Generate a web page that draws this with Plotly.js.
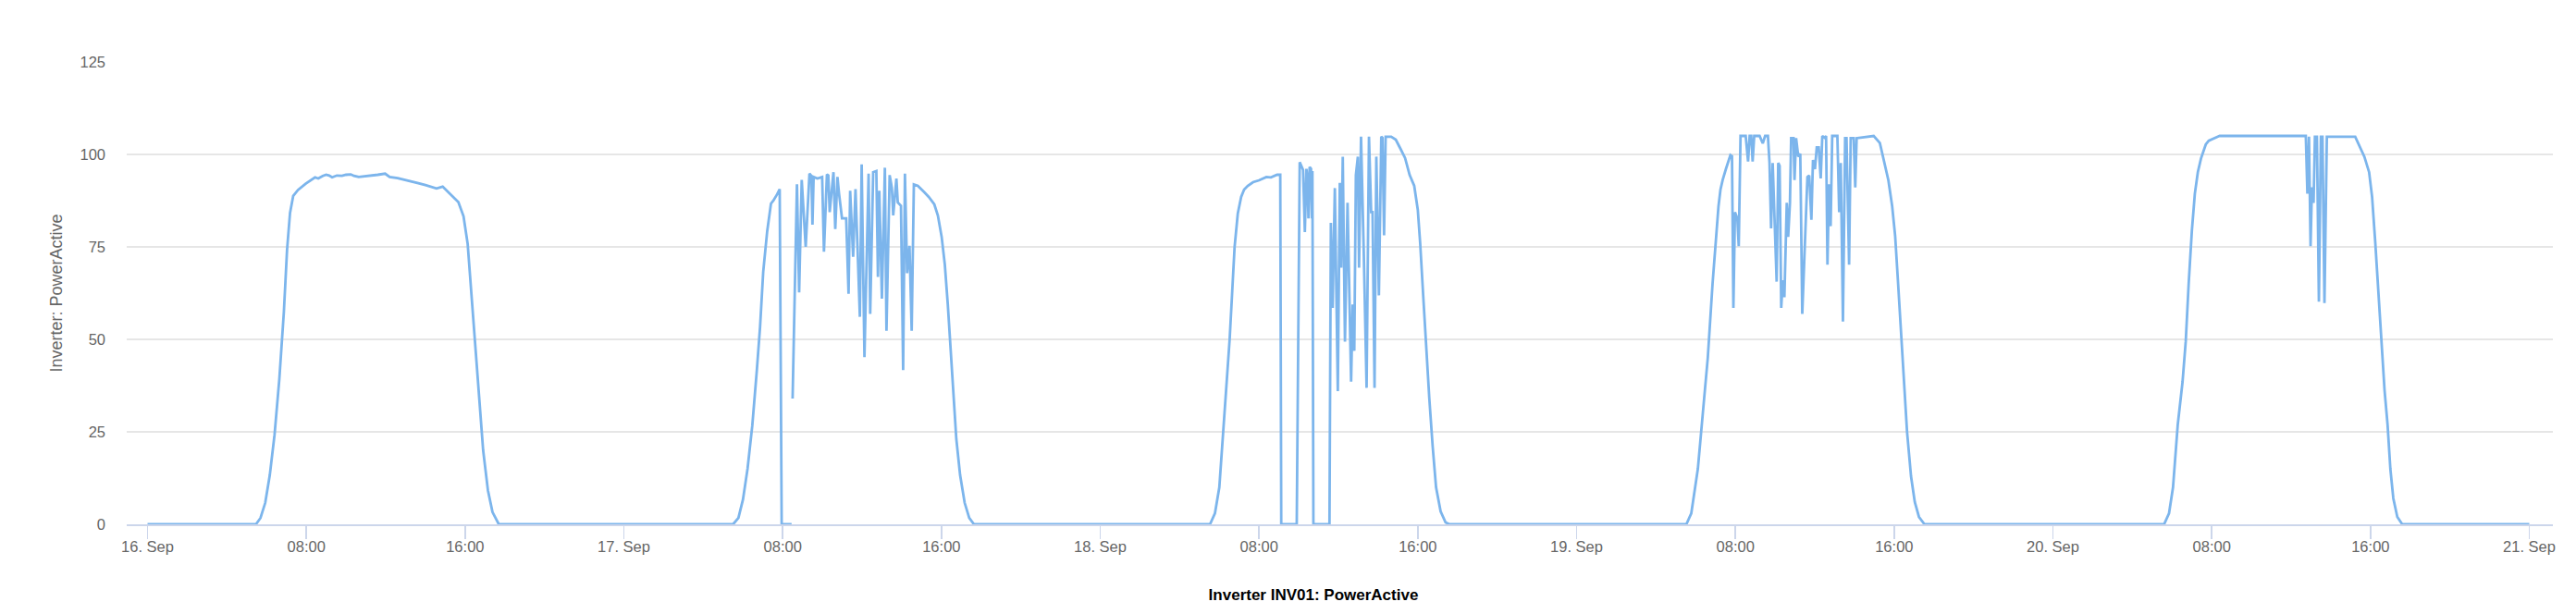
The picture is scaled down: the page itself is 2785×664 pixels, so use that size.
<!DOCTYPE html>
<html>
<head>
<meta charset="utf-8">
<script src="https://cdn.plot.ly/plotly-3.0.1.min.js"></script>
<style>
  html, body { margin: 0; padding: 0; background: #ffffff; }
  #chart { width: 2785px; height: 664px; }
</style>
</head>
<body>
<div id="chart"></div>
<script>
// ---- Data (hours of day, PowerActive values) ----
const days = ['2019-09-16', '2019-09-17', '2019-09-18', '2019-09-19', '2019-09-20'];

const day1Hours = [0, 5.46, 5.69, 5.93, 6.16, 6.40, 6.64, 6.87, 7.03, 7.18, 7.34, 7.58, 7.97, 8.44, 8.6, 8.83, 9.0, 9.15, 9.3, 9.54, 9.8, 10.0, 10.24, 10.4, 10.64, 11.0, 11.34, 11.6, 11.97, 12.2, 12.6, 13.22, 13.6, 14.0, 14.3, 14.56, 14.87, 15.26, 15.66, 15.92, 16.13, 16.28, 16.44, 16.6, 16.75, 16.91, 17.15, 17.38, 17.7];
const day1Power = [0, 0, 1.7, 5.8, 13.3, 24.2, 39.2, 57.5, 74.2, 84.2, 88.8, 90.4, 92.1, 93.8, 93.5, 94.2, 94.5, 94.3, 93.8, 94.3, 94.2, 94.5, 94.6, 94.2, 93.9, 94.1, 94.2, 94.5, 94.8, 93.9, 93.6, 92.9, 92.3, 91.7, 91.2, 90.8, 91.3, 89.3, 87.1, 83.3, 75.8, 65, 53.3, 40.8, 30, 20, 9.2, 3.3, 0];

const day2Hours = [5.5, 5.77, 6.0, 6.23, 6.47, 6.70, 6.86, 7.02, 7.22, 7.41, 7.53, 7.72, 7.85, 7.95, 8.45, 8.47, 8.5, 8.72, 8.83, 8.96, 9.16, 9.35, 9.45, 9.5, 9.56, 9.75, 9.99, 10.08, 10.23, 10.3, 10.37, 10.56, 10.65, 10.76, 10.84, 10.99, 11.2, 11.32, 11.4, 11.55, 11.67, 11.89, 11.98, 12.12, 12.33, 12.41, 12.56, 12.72, 12.8, 12.87, 13.0, 13.15, 13.23, 13.39, 13.5, 13.57, 13.73, 13.8, 13.96, 14.07, 14.16, 14.27, 14.39, 14.5, 14.61, 14.81, 15.13, 15.36, 15.64, 15.82, 16.01, 16.17, 16.32, 16.48, 16.6, 16.75, 16.94, 17.17, 17.4, 17.64];
const day2Power = [0, 1.7, 6.7, 15, 26.7, 41.7, 53.3, 68.3, 79.2, 86.7, 87.5, 89.2, 90.6, 0, 0, null, 34, 91.9, 62.7, 93.1, 75, 94.8, 94.2, 81, 93.9, 93.5, 93.9, 73.7, 94.6, 94.3, 84.4, 95.2, 79.8, 93.9, 89.4, 82.7, 82.7, 62.3, 90.2, 72.3, 90.6, 56.1, 97.3, 45.2, 94.8, 56.9, 95.2, 95.5, 66.9, 90.2, 61, 96.4, 52.3, 94.4, 91, 83.5, 93.5, 87, 86.1, 41.7, 94.8, 67.9, 75.3, 52.3, 91.9, 91.5, 89.8, 88.5, 86.5, 83.5, 77.7, 70.2, 59.4, 46, 34.4, 23, 13.3, 5.8, 1.7, 0];

const day3Hours = [5.53, 5.78, 6.0, 6.19, 6.35, 6.52, 6.65, 6.77, 6.93, 7.1, 7.25, 7.43, 7.7, 8.0, 8.37, 8.6, 8.91, 9.07, 9.12, 9.9, 10.05, 10.16, 10.22, 10.31, 10.39, 10.45, 10.49, 10.55, 10.62, 10.66, 10.69, 10.74, 11.55, 11.62, 11.71, 11.82, 11.97, 12.07, 12.14, 12.22, 12.33, 12.46, 12.55, 12.64, 12.72, 12.8, 12.88, 12.98, 13.04, 13.14, 13.28, 13.42, 13.54, 13.65, 13.72, 13.82, 13.91, 14.04, 14.16, 14.22, 14.3, 14.38, 14.66, 14.89, 15.13, 15.36, 15.59, 15.82, 16.0, 16.12, 16.27, 16.42, 16.58, 16.75, 16.92, 17.15, 17.4, 17.6];
const day3Power = [0, 3, 10, 24, 37, 50, 63, 75, 84, 88.5, 90.5, 91.5, 92.5, 93, 93.9, 93.8, 94.5, 94.5, 0, 0, 97.9, 96.6, 95.8, 79, 96.1, 93, 82.7, 96.6, 96.1, 82.7, 95.5, 0, 0, 81.5, 58.5, 90.9, 36, 92.3, 69.4, 99.4, 49.4, 86.9, 58.5, 38.6, 59.4, 46.9, 94.4, 99.4, 69.4, 104.8, 72.9, 36.9, 104.8, 84.4, 84.4, 36.9, 99.4, 61.9, 104.8, 104.5, 78.1, 104.8, 104.8, 104, 101.5, 99, 94.4, 91.5, 85, 76, 62, 48, 34, 21, 10, 3.5, 0.5, 0];

const day4Hours = [5.53, 5.78, 6.11, 6.36, 6.61, 6.85, 7.02, 7.15, 7.25, 7.36, 7.52, 7.75, 7.83, 7.9, 7.98, 8.1, 8.17, 8.26, 8.52, 8.64, 8.72, 8.8, 8.87, 8.95, 9.22, 9.38, 9.5, 9.64, 9.72, 9.8, 9.88, 9.96, 10.08, 10.16, 10.23, 10.31, 10.39, 10.47, 10.59, 10.66, 10.75, 10.81, 10.93, 10.98, 11.06, 11.17, 11.27, 11.37, 11.63, 11.72, 11.83, 11.91, 12.01, 12.1, 12.2, 12.3, 12.38, 12.5, 12.57, 12.64, 12.72, 12.8, 12.88, 13.14, 13.23, 13.31, 13.42, 13.53, 13.6, 13.73, 13.81, 13.96, 14.04, 14.11, 14.97, 15.28, 15.51, 15.71, 15.9, 16.05, 16.2, 16.35, 16.5, 16.65, 16.85, 17.04, 17.25, 17.53];
const day4Power = [0, 3, 15, 30, 45, 65, 78, 86, 90.5, 93.1, 96, 99.8, 99.5, 58.5, 84.4, 82.7, 75.2, 105, 105, 98.1, 105, 105, 98.1, 105, 105, 103, 105, 105, 97.7, 80, 97.7, 85.2, 65.6, 97.7, 96.9, 58.5, 66, 61.4, 86.9, 77.7, 86.9, 104.4, 104.4, 93.1, 104.4, 99.4, 100.2, 56.9, 93.9, 94.3, 82.3, 98.5, 96, 101.9, 101.9, 93.5, 105, 104.5, 105, 70.2, 91.9, 80.6, 105, 105, 84.4, 97.7, 54.8, 104.4, 104.4, 70.2, 104.4, 104.4, 91.1, 104.4, 105, 103.1, 97.7, 93, 86, 78, 65, 52, 38, 25, 13, 6, 2, 0];

const day5Hours = [5.6, 5.85, 6.05, 6.2, 6.29, 6.53, 6.69, 6.84, 7.0, 7.15, 7.3, 7.46, 7.7, 7.85, 8.0, 8.16, 8.31, 8.4, 12.74, 12.82, 12.9, 12.98, 13.05, 13.13, 13.2, 13.3, 13.4, 13.5, 13.58, 13.68, 13.8, 15.23, 15.46, 15.69, 15.93, 16.08, 16.24, 16.4, 16.55, 16.71, 16.86, 17.0, 17.15, 17.35, 17.6, 24];
const day5Power = [0, 3, 10, 20, 27, 38.5, 49.4, 65.2, 79.4, 89.4, 95.2, 98.9, 102.7, 103.7, 104, 104.4, 104.8, 105, 105, 89.4, 104.8, 75.2, 91.1, 86.9, 104.8, 104.8, 60.2, 104.8, 104.8, 59.8, 104.8, 104.8, 102.3, 99.4, 95.2, 88.5, 76.2, 62, 47.8, 36.1, 26.9, 15, 7, 2, 0, 0];

const tickValues = ['2019-09-16 00:00', '2019-09-16 08:00', '2019-09-16 16:00',
                    '2019-09-17 00:00', '2019-09-17 08:00', '2019-09-17 16:00',
                    '2019-09-18 00:00', '2019-09-18 08:00', '2019-09-18 16:00',
                    '2019-09-19 00:00', '2019-09-19 08:00', '2019-09-19 16:00',
                    '2019-09-20 00:00', '2019-09-20 08:00', '2019-09-20 16:00',
                    '2019-09-21 00:00'];
const tickLabels = ['16. Sep', '08:00', '16:00', '17. Sep', '08:00', '16:00', '18. Sep', '08:00', '16:00',
                    '19. Sep', '08:00', '16:00', '20. Sep', '08:00', '16:00', '21. Sep'];
const yTicks = [0, 25, 50, 75, 100, 125];

// ---- Build the series ----
const dayHours = [day1Hours, day2Hours, day3Hours, day4Hours, day5Hours];
const dayPower = [day1Power, day2Power, day3Power, day4Power, day5Power];

function stamp(day, h) {
  const p = day.split('-').map(Number);
  const ms = Date.UTC(p[0], p[1] - 1, p[2]) + Math.round(h * 3600) * 1000;
  return new Date(ms).toISOString().slice(0, 19).replace('T', ' ');
}

const xs = [], ys = [];
days.forEach((d, i) => {
  dayHours[i].forEach((h, j) => {
    xs.push(stamp(d, h));
    ys.push(dayPower[i][j]);
  });
});

const FONT = '"Liberation Sans", Arial, Helvetica, sans-serif';

const trace = {
  x: xs,
  y: ys,
  type: 'scatter',
  mode: 'lines',
  line: { color: '#7cb5ec', width: 2.8 },
  connectgaps: false,
  cliponaxis: false,
  hoverinfo: 'skip'
};

const layout = {
  width: 2785,
  height: 664,
  margin: { l: 137, r: 25, t: 67, b: 97, pad: 0 },
  paper_bgcolor: '#ffffff',
  plot_bgcolor: '#ffffff',
  showlegend: false,
  hovermode: false,
  font: { family: FONT, color: '#666666' },
  title: {
    text: '<b>Inverter INV01: PowerActive</b>',
    font: { family: FONT, size: 17, color: '#000000' },
    xref: 'container', yref: 'container',
    x: 1420 / 2785, y: 1 - 643 / 664,
    xanchor: 'center', yanchor: 'middle'
  },
  xaxis: {
    type: 'date',
    range: ['2019-09-15 22:57:05', '2019-09-21 01:11:18'],
    tickmode: 'array',
    tickvals: tickValues,
    ticktext: tickLabels,
    ticks: 'outside',
    ticklen: 14,
    tickwidth: 1.5,
    tickcolor: '#ccd6eb',
    ticklabelstandoff: -5,
    showline: true,
    linecolor: '#ccd6eb',
    linewidth: 1.5,
    showgrid: false,
    zeroline: false,
    tickfont: { family: FONT, size: 16.5, color: '#666666' }
  },
  yaxis: {
    range: [0, 125],
    tickmode: 'array',
    tickvals: yTicks,
    ticks: '',
    showline: false,
    showgrid: true,
    gridcolor: '#e6e6e6',
    gridwidth: 1.5,
    zeroline: false,
    ticklabelstandoff: 22,
    tickfont: { family: FONT, size: 16.5, color: '#666666' },
    title: {
      text: 'Inverter: PowerActive',
      font: { family: FONT, size: 18, color: '#666666' },
      standoff: 14
    }
  }
};

Plotly.newPlot('chart', [trace], layout, { staticPlot: true, displayModeBar: false });
</script>
</body>
</html>
